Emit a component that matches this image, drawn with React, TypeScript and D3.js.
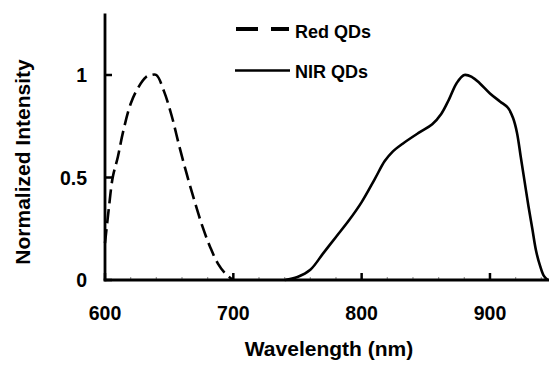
import React from "react";
import * as d3 from "d3";

const redWavelength = [600, 603, 606, 610, 614, 620, 626, 632, 636, 640, 646, 652, 658, 664, 670, 676, 682, 688, 694, 700];
const redIntensity = [0.18, 0.35, 0.5, 0.6, 0.72, 0.86, 0.94, 0.99, 1.0, 1.0, 0.92, 0.8, 0.65, 0.51, 0.38, 0.26, 0.16, 0.08, 0.03, 0.0];

const nirWavelength = [740, 750, 760, 770, 780, 790, 800, 810, 818, 824, 832, 845, 855, 862, 868, 874, 880, 886, 892, 900, 908, 914, 918, 921, 924, 927, 930, 933, 936, 939, 942, 945];
const nirIntensity = [0, 0.015, 0.05, 0.13, 0.21, 0.29, 0.38, 0.49, 0.58, 0.625, 0.665, 0.72, 0.76, 0.81, 0.88, 0.96, 1.0, 0.99, 0.96, 0.91, 0.87, 0.84, 0.79, 0.72, 0.6, 0.48, 0.36, 0.25, 0.14, 0.07, 0.02, 0];

const xTicks = [600, 700, 800, 900];
const xMinorTicks = d3.range(620, 946, 20).filter((v) => v % 100 !== 0);
const yTicks = [0, 0.5, 1];
const yTickLabels = ["0", "0.5", "1"];
const seriesNames = ["Red QDs", "NIR QDs"];

const FONT = "'Liberation Sans', Arial, sans-serif";

export default function App() {
  const W = 549;
  const H = 367;
  const x = d3.scaleLinear().domain([600, 946]).range([105, 549]);
  const y = d3.scaleLinear().domain([0, 1.3]).range([280, 13.5]);

  const line = d3
    .line<[number, number]>()
    .x((d) => x(d[0]))
    .y((d) => y(Math.max(0, d[1])))
    .curve(d3.curveCatmullRom.alpha(0.5));

  const redPts = redWavelength.map((w, i) => [w, redIntensity[i]] as [number, number]);
  const nirPts = nirWavelength.map((w, i) => [w, nirIntensity[i]] as [number, number]);

  return (
    <svg
      width={W}
      height={H}
      style={{ position: "absolute", left: 0, top: 0, background: "#fff" }}
      fontFamily={FONT}
    >
      <rect width={W} height={H} fill="#fff" />
      {/* curves */}
      <path d={line(redPts) || ""} fill="none" stroke="#000" strokeWidth={2.6} strokeDasharray="14,6" />
      <path d={line(nirPts) || ""} fill="none" stroke="#000" strokeWidth={2.6} strokeLinejoin="round" />

      {/* minor x ticks */}
      {xMinorTicks.map((t) => (
        <line key={"m" + t} x1={x(t)} x2={x(t)} y1={y(0)} y2={y(0) - 3} stroke="#999" strokeWidth={1.2} />
      ))}
      {/* major x ticks */}
      {xTicks.map((t) => (
        <line key={"x" + t} x1={x(t)} x2={x(t)} y1={y(0)} y2={y(0) - 7} stroke="#000" strokeWidth={2.5} />
      ))}
      {/* y ticks */}
      {yTicks.map((t) => (
        <line key={"y" + t} x1={x(600)} x2={x(600) + 7} y1={y(t)} y2={y(t)} stroke="#000" strokeWidth={2.5} />
      ))}
      {/* axes */}
      <line x1={x(600)} x2={x(600)} y1={y(1.3)} y2={y(0) + 1.3} stroke="#000" strokeWidth={2.8} />
      <line x1={x(600) - 1.3} x2={W} y1={y(0)} y2={y(0)} stroke="#000" strokeWidth={2.8} />

      {/* x tick labels */}
      {xTicks.map((t) => (
        <text key={"xl" + t} x={x(t)} y={320} textAnchor="middle" fontSize={19.5} fontWeight="bold">
          {t}
        </text>
      ))}
      {/* y tick labels */}
      {yTicks.map((t, i) => (
        <text key={"yl" + t} x={87} y={y(t) + 7} textAnchor="end" fontSize={19.5} fontWeight="bold">
          {yTickLabels[i]}
        </text>
      ))}

      {/* axis titles */}
      <text x={329} y={356} textAnchor="middle" fontSize={21} fontWeight="bold">
        Wavelength (nm)
      </text>
      <text
        transform={`translate(30,162) rotate(-90)`}
        textAnchor="middle"
        fontSize={21}
        fontWeight="bold"
      >
        Normalized Intensity
      </text>

      {/* legend */}
      <line x1={236} x2={289} y1={29} y2={29} stroke="#000" strokeWidth={3.8} strokeDasharray="22,13" />
      <text x={295} y={38} fontSize={18} fontWeight="bold">
        {seriesNames[0]}
      </text>
      <line x1={235} x2={290} y1={70.5} y2={70.5} stroke="#000" strokeWidth={2.6} />
      <text x={295} y={78} fontSize={18} fontWeight="bold">
        {seriesNames[1]}
      </text>
    </svg>
  );
}
